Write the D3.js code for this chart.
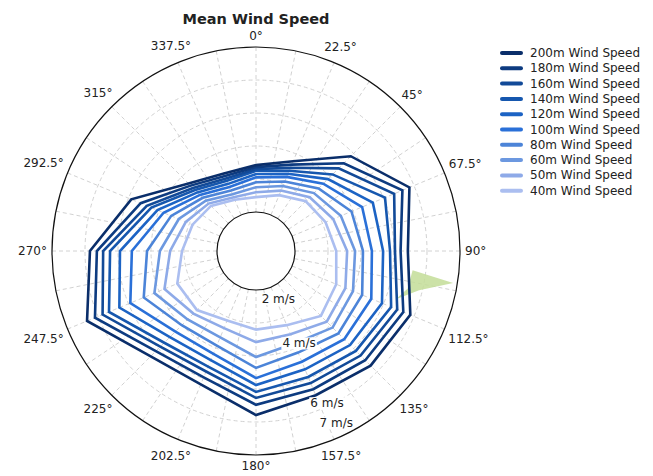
<!DOCTYPE html>
<html>
<head>
<meta charset="utf-8">
<script src="https://cdn.jsdelivr.net/npm/d3@7"></script>
<style>
    body { margin: 0; background: #fff; }
    text { font-family: "DejaVu Sans", sans-serif; fill: #222; }
</style>
</head>
<body>
<svg id="chart" width="653" height="476"></svg>
<script>
// Directions of the readings (degrees, clockwise from north)
const directions = [0, 22.5, 45, 67.5, 90, 112.5, 135, 157.5, 180, 202.5, 225, 247.5, 270, 292.5, 315, 337.5];

// Mean wind speed (m/s) per height, one value per direction
const ws200 = [3.42, 3.76, 4.88, 5.85, 5.42, 5.88, 5.73, 5.55, 5.79, 5.19, 5.33, 6.36, 5.85, 4.91, 3.71, 3.36];
const ws180 = [3.36, 3.65, 4.58, 5.62, 5.20, 5.65, 5.50, 5.35, 5.48, 4.96, 5.11, 6.10, 5.64, 4.60, 3.62, 3.28];
const ws160 = [3.30, 3.55, 4.36, 5.35, 5.03, 5.45, 5.30, 5.15, 5.27, 4.77, 4.92, 5.85, 5.45, 4.40, 3.52, 3.20];
const ws140 = [3.25, 3.45, 4.10, 5.05, 4.88, 5.25, 5.10, 4.95, 5.09, 4.61, 4.75, 5.64, 5.24, 4.25, 3.43, 3.12];
const ws120 = [3.15, 3.35, 3.90, 4.65, 4.67, 4.95, 4.85, 4.70, 4.88, 4.40, 4.51, 5.30, 4.94, 4.05, 3.33, 3.02];
const ws100 = [3.05, 3.25, 3.70, 4.30, 4.33, 4.60, 4.60, 4.45, 4.67, 4.19, 4.27, 4.94, 4.58, 3.85, 3.22, 2.92];
const ws80  = [2.90, 3.10, 3.50, 3.95, 4.06, 4.30, 4.35, 4.15, 4.36, 3.92, 4.00, 4.50, 4.12, 3.60, 3.10, 2.80];
const ws60  = [2.75, 2.95, 3.30, 3.60, 3.82, 4.00, 4.10, 3.85, 4.03, 3.65, 3.75, 4.15, 3.73, 3.35, 2.97, 2.68];
const ws50  = [2.60, 2.80, 3.12, 3.35, 3.58, 3.75, 3.85, 3.55, 3.58, 3.35, 3.50, 3.82, 3.42, 3.12, 2.85, 2.58];
const ws40  = [2.45, 2.65, 2.95, 3.10, 3.25, 3.45, 3.60, 3.25, 3.20, 3.10, 3.35, 3.40, 3.06, 2.90, 2.75, 2.50];

const seriesNames = ['200m Wind Speed', '180m Wind Speed', '160m Wind Speed', '140m Wind Speed', '120m Wind Speed',
    '100m Wind Speed', '80m Wind Speed', '60m Wind Speed', '50m Wind Speed', '40m Wind Speed'];
const seriesValues = [ws200, ws180, ws160, ws140, ws120, ws100, ws80, ws60, ws50, ws40];
const seriesColors = ['#0a2e6a', '#0d3b80', '#124a98', '#1657ae', '#1c63c4', '#2a70d8', '#4c84d8', '#6c98e0', '#8eaae8', '#abbef0'];

// Radial axis
const speedDomain = [2, 7];
const gridSpeeds = [3, 4, 5, 6];
const labelSpeeds = [2, 4, 6, 7];
const labelDirection = 155;

// Small green highlight near east
const highlightDirs = [97, 99.2, 103.5, 109, 104];
const highlightSpeeds = [5.6, 6.87, 5.9, 5.3, 5.55];

// Layout
const cx = 256, cy = 251;
const innerR = 39, outerR = 204;

const svg = d3.select('#chart');
svg.append('rect').attr('width', 653).attr('height', 476).attr('fill', '#fff');

const r = d3.scaleLinear().domain(speedDomain).range([innerR, outerR]);
const angle = d3.scaleLinear().domain([0, 360]).range([0, 2 * Math.PI]);

const g = svg.append('g').attr('transform', `translate(${cx},${cy})`);

// Dashed grid rings
g.selectAll('circle.grid')
    .data(gridSpeeds)
    .enter()
    .append('circle')
    .attr('r', d => r(d))
    .attr('fill', 'none')
    .attr('stroke', '#d2d2d2')
    .attr('stroke-dasharray', '4,3');

// Dashed spokes
const spokes = d3.range(0, 360, 11.25);
g.selectAll('line.spoke')
    .data(spokes)
    .enter()
    .append('line')
    .attr('x1', d => innerR * Math.sin(angle(d)))
    .attr('y1', d => -innerR * Math.cos(angle(d)))
    .attr('x2', d => outerR * Math.sin(angle(d)))
    .attr('y2', d => -outerR * Math.cos(angle(d)))
    .attr('stroke', '#d2d2d2')
    .attr('stroke-dasharray', '4,3');

// Green highlight
const highlightLine = d3.lineRadial()
    .angle(d => angle(d[0]))
    .radius(d => r(d[1]))
    .curve(d3.curveLinearClosed);
g.append('path')
    .datum(highlightDirs.map((a, i) => [a, highlightSpeeds[i]]))
    .attr('d', highlightLine)
    .attr('fill', '#c3dd98')
    .attr('opacity', 0.85);

// Series lines, light first so the dark ones stay on top
const radialLine = d3.lineRadial()
    .angle((d, i) => angle(directions[i]))
    .radius(d => r(d))
    .curve(d3.curveLinearClosed);

for (let i = seriesValues.length - 1; i >= 0; i--) {
    g.append('path')
        .datum(seriesValues[i])
        .attr('d', radialLine)
        .attr('fill', 'none')
        .attr('stroke', seriesColors[i])
        .attr('stroke-width', 2.6)
        .attr('stroke-linejoin', 'miter');
}

// Outer and inner circles
g.append('circle').attr('r', outerR).attr('fill', 'none').attr('stroke', '#111').attr('stroke-width', 1.2);
g.append('circle').attr('r', innerR).attr('fill', '#fff').attr('stroke', '#111').attr('stroke-width', 1.2);

// Radial speed labels along one direction
labelSpeeds.forEach(v => {
    const off = v === speedDomain[0] ? 14 : v === speedDomain[1] ? -14 : -3;
    const rr = r(v) + off;
    const a = angle(labelDirection);
    const x = rr * Math.sin(a), y = -rr * Math.cos(a);
    const lbl = g.append('g');
    const t = lbl.append('text')
        .attr('x', x).attr('y', y)
        .attr('text-anchor', 'middle')
        .attr('dominant-baseline', 'central')
        .attr('font-size', 12)
        .text(v + ' m/s');
    const w = t.node().getComputedTextLength();
    lbl.insert('rect', 'text')
        .attr('x', x - w / 2 - 1).attr('y', y - 6)
        .attr('width', w + 2).attr('height', 12)
        .attr('fill', '#fff');
});

// Direction labels
directions.forEach(d => {
    const a = angle(d);
    const t = g.append('text')
        .attr('text-anchor', 'middle')
        .attr('dominant-baseline', 'central')
        .attr('font-size', 12)
        .text(d + '°');
    const w = t.node().getComputedTextLength();
    const rr = outerR + 5 + Math.abs(Math.sin(a)) * w / 2 + Math.abs(Math.cos(a)) * 6;
    t.attr('x', rr * Math.sin(a)).attr('y', -rr * Math.cos(a));
});

// Title
svg.append('text')
    .attr('x', cx).attr('y', 24)
    .attr('text-anchor', 'middle')
    .attr('font-size', 14.5)
    .attr('font-weight', 'bold')
    .text('Mean Wind Speed');

// Legend
const legend = svg.append('g').attr('transform', 'translate(500, 53)');
seriesNames.forEach((name, i) => {
    const item = legend.append('g').attr('transform', `translate(0, ${i * 15.3})`);
    item.append('line')
        .attr('x1', 2).attr('x2', 21)
        .attr('stroke', seriesColors[i])
        .attr('stroke-width', 4)
        .attr('stroke-linecap', 'round');
    item.append('text')
        .attr('x', 30)
        .attr('dominant-baseline', 'central')
        .attr('font-size', 12)
        .text(name);
});
</script>
</body>
</html>
